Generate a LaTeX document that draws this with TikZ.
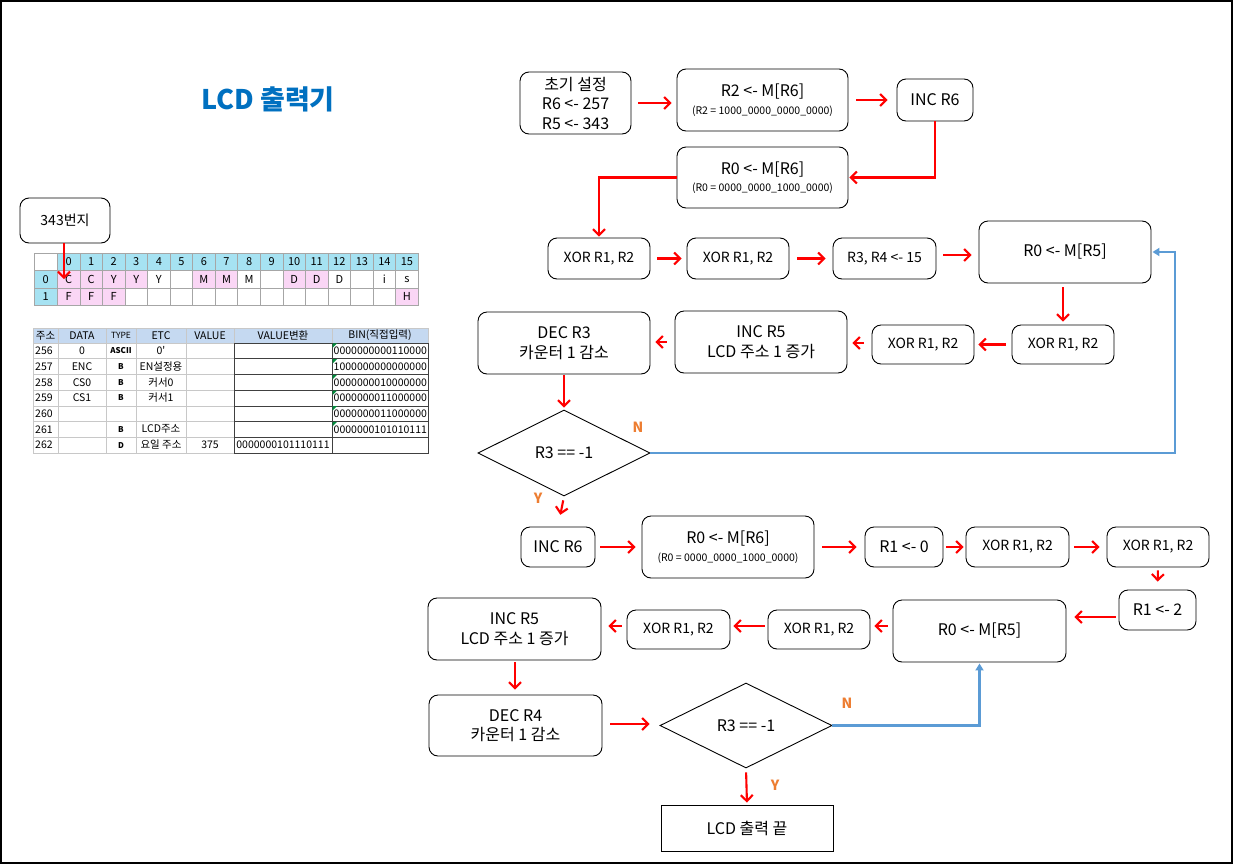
\documentclass[tikz,border=0pt]{standalone}
\usepackage{fontspec}
\setmainfont{Noto Sans CJK KR}
\usetikzlibrary{shapes.geometric,arrows.meta}
\definecolor{rd}{RGB}{255,0,0}
\definecolor{bl}{RGB}{91,155,213}
\definecolor{og}{RGB}{237,125,49}
\definecolor{tb}{RGB}{0,112,192}
\definecolor{cy}{RGB}{166,226,242}
\definecolor{pk}{RGB}{250,214,245}
\definecolor{hb}{RGB}{197,217,241}
\definecolor{gn}{RGB}{0,140,60}
\definecolor{gl}{RGB}{200,200,200}
\newcommand\fmain{\fontsize{16}{19.5}\selectfont}
\newcommand\fxor{\fontsize{14}{17}\selectfont}
\newcommand\fsm{\fontsize{10.5}{13}\selectfont}
\newcommand\ftA{\fontsize{11}{13}\selectfont}
\newcommand\ftB{\fontsize{10.5}{12}\selectfont}
\newcommand\bx[7][]{\node[box,minimum width={#5-#3},minimum height={#6-#4},#1] (#2) at ({(#3+#5)/2},{(#4+#6)/2}) {#7};}
\tikzset{
  box/.style={draw, line width=0.9pt, rounded corners=9pt, align=center, inner sep=0pt, font=\fmain},
  xbox/.style={font=\fxor},
  rarr/.style={draw=rd, line width=2.1pt, -{Straight Barb[length=6pt,width=12pt,line width=2.1pt]}, shorten <=7pt, shorten >=5pt},
  barr/.style={draw=bl, line width=2.1pt, -{Triangle[length=7pt,width=8pt]}},
  lab/.style={text=og, font=\fontsize{14}{16}\selectfont\bfseries},
  dia/.style={draw, line width=0.9pt, diamond, aspect=2, inner sep=0pt, font=\fmain},
}
\begin{document}
\begin{tikzpicture}[x=1pt,y=-1pt]
\useasboundingbox (0,0) rectangle (1234,865);
\draw[line width=1.2pt] (1,1) rectangle (1232,863);

% title
\node[text=tb, font=\fontsize{27}{30}\selectfont\bfseries] (title) at (268,99) {LCD 출력기};

% 343 box
\bx[font=\fontsize{14}{16}\selectfont]{b343}{20}{198}{110}{243}{343번지}

% memory table 1
\fill[cy] (57.3,253) rectangle (418.3,270.5);
\fill[cy] (34,270.5) rectangle (57.3,305.5);
\foreach \i in {0,1,2,3,6,7,10,11} \fill[pk] ({57.3+\i*22.56},270.5) rectangle ++(22.56,17.5);
\foreach \i in {0,1,2,15} \fill[pk] ({57.3+\i*22.56},288) rectangle ++(22.56,17.5);
\foreach \y in {253,270.5,288,305.5} \draw[gray!70, line width=0.6pt] (34,\y) -- (418.3,\y);
\draw[gray!70, line width=0.6pt] (34,253) -- (34,305.5);
\foreach \i in {0,...,16} \draw[gray!70, line width=0.6pt] ({57.3+\i*22.56},253) -- ++(0,52.5);
\foreach \i in {0,...,15} \node[font=\ftA] (h\i) at ({57.3+(\i+0.5)*22.56},261.75) {\i};
\node[font=\ftA] (rl0) at (45.6,279.25) {0};
\node[font=\ftA] (rl1) at (45.6,296.75) {1};
\foreach \i/\t in {0/C,1/C,2/Y,3/Y,4/Y,6/M,7/M,8/M,10/D,11/D,12/D,14/i,15/s}
  \node[font=\ftA] (a\i) at ({57.3+(\i+0.5)*22.56},279.25) {\t};
\foreach \i/\t in {0/F,1/F,2/F,15/H}
  \node[font=\ftA] (b\i) at ({57.3+(\i+0.5)*22.56},296.75) {\t};
\coordinate (c0) at (64,279);
\draw[rarr, shorten <=0pt, shorten >=0pt] (b343.south -| c0) -- (c0);

% memory table 2
\fill[hb] (33,328) rectangle (428,343);
\foreach \y in {328,343,358.7,374.4,390.1,405.8,421.5,437.2,452.9} \draw[gl, line width=0.6pt] (33,\y) -- (428,\y);
\foreach \x in {33,58,106,136,186,234,332,428} \draw[gl, line width=0.6pt] (\x,328) -- (\x,452.9);
\foreach \k in {0,...,6} {
  \draw[black!75, line width=0.6pt] (234,{343+\k*15.7}) rectangle (332,{343+(\k+1)*15.7});
  \draw[black!75, line width=0.6pt] (332,{343+\k*15.7}) rectangle (428,{343+(\k+1)*15.7});
}
\foreach \k in {0,...,5} \fill[gn] (332.5,{343.4+\k*15.7}) -- ++(4.5,0) -- ++(-4.5,4.5) -- cycle;
\node[font=\ftB] (t0) at (45.5,335.5) {주소};
\node[font=\ftB] (t1) at (82,335.5) {DATA};
\node[font=\fontsize{8.5}{10}\selectfont] (t2) at (121,335.5) {TYPE};
\node[font=\ftB] (t3) at (161,335.5) {ETC};
\node[font=\ftB] (t4) at (210,335.5) {VALUE};
\node[font=\ftB] (t5) at (283,335.5) {VALUE변환};
\node[font=\ftB] (t6) at (380,335.5) {BIN(직접입력)};
\foreach \a/\d/\t/\e/\v/\w/\b [count=\k from 0] in {
  256/0/ASCII/0\textquotesingle/{}/{}/0000000000110000,
  257/ENC/B/EN설정용/{}/{}/1000000000000000,
  258/CS0/B/커서0/{}/{}/0000000010000000,
  259/CS1/B/커서1/{}/{}/0000000011000000,
  260/{}/{}/{}/{}/{}/0000000011000000,
  261/{}/B/LCD주소/{}/{}/0000000101010111,
  262/{}/D/요일 주소/375/0000000101110111/{}} {
  \node[font=\ftB, anchor=west, inner sep=0pt] (ca\k) at (35,{343+(\k+0.5)*15.7}) {\a};
  \node[font=\ftB] (cd\k) at (82,{343+(\k+0.5)*15.7}) {\d};
  \node[font=\fontsize{8}{10}\selectfont\bfseries] (ct\k) at (121,{343+(\k+0.5)*15.7}) {\t};
  \node[font=\ftB] (ce\k) at (161,{343+(\k+0.5)*15.7}) {\e};
  \node[font=\ftB] (cv\k) at (210,{343+(\k+0.5)*15.7}) {\v};
  \node[font=\ftB] (cw\k) at (283,{343+(\k+0.5)*15.7}) {\w};
  \node[font=\ftB, anchor=west, inner sep=0pt] (cb\k) at (333.5,{343+(\k+0.5)*15.7}) {\b};
}

% flowchart boxes
\bx{init}{520}{72}{631}{134}{초기 설정\\R6 <- 257\\R5 <- 343}
\bx{r2}{677}{69}{848}{131}{R2 <- M[R6]\\[-2pt]{\fsm (R2 = 1000\_0000\_0000\_0000)}}
\bx{inc6}{897}{79}{973}{121}{INC R6}
\bx{r0}{677}{147}{848}{208}{R0 <- M[R6]\\[-2pt]{\fsm (R0 = 0000\_0000\_1000\_0000)}}
\bx[xbox]{xa}{548}{238}{650}{279}{XOR R1, R2}
\bx[xbox]{xb}{687}{238}{789}{279}{XOR R1, R2}
\bx[xbox]{r34}{833}{238}{936}{279}{R3, R4 <- 15}
\bx{r05}{979}{221}{1151}{283}{R0 <- M[R5]}
\bx[xbox]{xc}{1012}{325}{1114}{364}{XOR R1, R2}
\bx[xbox]{xd}{872}{325}{974}{364}{XOR R1, R2}
\bx{inc5}{675}{311}{847}{373}{INC R5\\LCD 주소 1 증가}
\bx{dec3}{478}{312}{650}{374}{DEC R3\\카운터 1 감소}
\node[dia, minimum width=172pt, minimum height=86pt] (d1) at (564,453) {R3 == -1};
\bx{inc6b}{521}{527}{595}{567}{INC R6}
\bx{r06b}{642}{516}{814}{578}{R0 <- M[R6]\\[-2pt]{\fsm (R0 = 0000\_0000\_1000\_0000)}}
\bx{r10}{865}{527}{943}{567}{R1 <- 0}
\bx[xbox]{xe}{966}{527}{1069}{567}{XOR R1, R2}
\bx[xbox]{xf}{1107}{527}{1209}{567}{XOR R1, R2}
\bx{r12}{1119}{590}{1196}{630}{R1 <- 2}
\bx{r05b}{893}{600}{1066}{662}{R0 <- M[R5]}
\bx[xbox]{xg}{768}{610}{870}{649}{XOR R1, R2}
\bx[xbox]{xh}{627}{610}{730}{649}{XOR R1, R2}
\bx{inc5b}{428}{598}{601}{660}{INC R5\\LCD 주소 1 증가}
\bx{dec4}{429}{695}{602}{756}{DEC R4\\카운터 1 감소}
\node[dia, minimum width=172pt, minimum height=85pt] (d2) at (746,725.5) {R3 == -1};
\bx[rounded corners=0pt]{endb}{661}{805}{833}{851}{LCD 출력 끝}

% connectors
\draw[rarr] (init.east) -- (init.east -| r2.west);
\draw[rarr, shorten <=8pt, shorten >=9pt] (r2.east |- 0,100) -- (inc6.west |- 0,100);
\draw[rarr, shorten <=0pt, shorten >=1pt] (inc6.south) |- (r0.east);
\draw[rarr, shorten <=0pt, shorten >=1pt] (r0.west) -| (xa.north);
\draw[rarr] (xa.east) -- (xb.west);
\draw[rarr, shorten <=8pt, shorten >=7pt] (xb.east) -- (r34.west);
\draw[rarr, shorten <=7pt, shorten >=7pt] (r34.east |- 0,255) -- (r05.west |- 0,255);
\draw[rarr, shorten <=4pt, shorten >=3pt] (r05.south -| xc.north) -- (xc.north);
\draw[rarr, shorten <=6pt, shorten >=4pt] (xc.west) -- (xd.east);
\draw[rarr, shorten <=8pt, shorten >=5pt] (xd.west |- 0,343) -- (inc5.east |- 0,343);
\draw[rarr, shorten <=8pt, shorten >=5pt] (inc5.west) -- (inc5.west -| dec3.east);
\draw[rarr, shorten <=1pt, shorten >=2pt] (dec3.south) -- (d1.north);
\coordinate (bc1) at (1175,453);
\draw[barr, shorten >=1pt] (d1.east) -- (bc1) |- (r05.east);
\draw[rarr, shorten <=4pt, shorten >=12pt] (d1.south) -- (inc6b.north);
\draw[rarr, shorten <=5pt, shorten >=6pt] (inc6b.east) -- (inc6b.east -| r06b.west);
\draw[rarr, shorten <=8pt, shorten >=8pt] (r06b.east |- r10.west) -- (r10.west);
\draw[rarr, shorten <=3pt, shorten >=2pt] (r10.east) -- (xe.west);
\draw[rarr, shorten <=5pt, shorten >=7pt] (xe.east) -- (xf.west);
\draw[rarr, shorten <=3pt, shorten >=8pt] (xf.south) -- (r12.north);
\draw[rarr, shorten <=3pt, shorten >=8pt] (r12.west |- 0,617) -- (r05b.east |- 0,617);
\draw[rarr, shorten <=5pt, shorten >=4pt] (r05b.west |- 0,626) -- (xg.east |- 0,626);
\draw[rarr, shorten <=3pt, shorten >=3pt] (xg.west |- 0,626) -- (xh.east |- 0,626);
\draw[rarr, shorten <=5pt, shorten >=7pt] (xh.west |- 0,626) -- (inc5b.east |- 0,626);
\draw[rarr, shorten <=2pt, shorten >=5pt] (inc5b.south -| 515,0) -- (dec4.north -| 515,0);
\draw[rarr, shorten <=8pt, shorten >=10pt] (dec4.east |- 0,724) -- (d2.west |- 0,724);
\draw[rarr, shorten <=4pt, shorten >=2pt] (d2.south) -- (endb.north);
\draw[barr, shorten >=1pt] (d2.east) -| (r05b.south);

% labels
\node[lab] (n1) at (638,427) {N};
\node[lab] (y1) at (538,498) {Y};
\node[lab] (n2) at (847,703) {N};
\node[lab] (y2) at (775,785) {Y};
\end{tikzpicture}
\end{document}
